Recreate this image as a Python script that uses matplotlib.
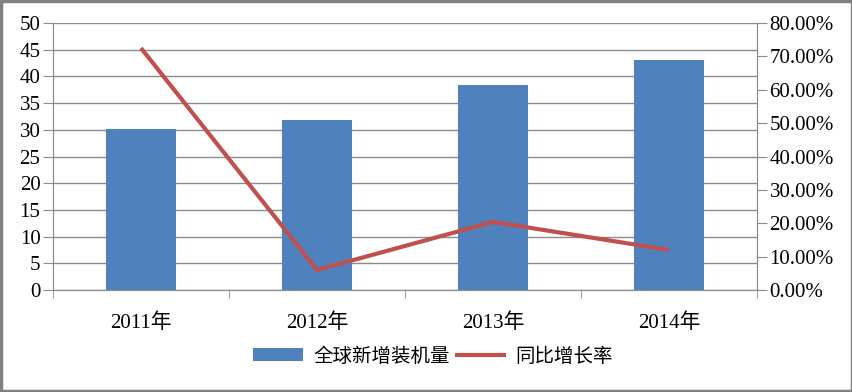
import numpy as np
import matplotlib.pyplot as plt
from matplotlib.patches import Rectangle

years = ["2011年", "2012年", "2013年", "2014年"]
capacity = [30.2, 31.9, 38.3, 43.0]
growth = [72.5, 6.0, 20.4, 12.0]

bar_color = "#4F81BD"
line_color = "#C0504D"
grid_color = "#8C8C8C"
tick_font = ["Liberation Serif", "Noto Sans CJK SC"]

fig = plt.figure(figsize=(8.53, 3.92), dpi=100)
ax1 = fig.add_axes([53/853, 1 - 290/392, (757-53)/853, (290-23)/392])
ax2 = ax1.twinx()

x = np.arange(len(years))
ax1.bar(x, capacity, width=0.4, color=bar_color, zorder=2, label="全球新增装机量")
ax2.plot(x, growth, color=line_color, lw=3, solid_capstyle="butt", label="同比增长率")

ax1.set_xlim(-0.5, len(years) - 0.5)
ax1.set_ylim(0, 50)
ax1.set_yticks(np.arange(0, 51, 5))
ax2.set_ylim(0, 80)
ax2.set_yticks(np.arange(0, 81, 10))
ax2.set_yticklabels(["%.2f%%" % v for v in np.arange(0, 81, 10)])

ax1.yaxis.grid(True, color=grid_color, lw=1, zorder=0)
ax1.set_axisbelow(True)

ax1.set_xticks(x)
ax1.set_xticklabels(years)
ax1.set_xticks(np.arange(-0.5, len(years), 1), minor=True)
ax1.tick_params(axis="x", which="major", length=0, pad=17)
ax1.tick_params(axis="x", which="minor", length=6, color=grid_color)
ax1.tick_params(axis="y", length=7, color=grid_color, pad=2)
ax2.tick_params(axis="y", length=7, color=grid_color, pad=2)

for lab in ax1.get_xticklabels() + ax1.get_yticklabels() + ax2.get_yticklabels():
    lab.set_family(tick_font)
    lab.set_fontsize(15)

for ax in (ax1, ax2):
    ax.spines["top"].set_visible(False)
    for side in ("left", "right", "bottom"):
        ax.spines[side].set_color(grid_color)

h1, l1 = ax1.get_legend_handles_labels()
h2, l2 = ax2.get_legend_handles_labels()
fig.legend(h1 + h2, l1 + l2, loc="center", bbox_to_anchor=(433/853, 1 - 356/392),
           ncol=2, frameon=False, prop={"family": "Noto Sans CJK SC", "size": 14},
           handlelength=2.6, handleheight=0.6, columnspacing=0.3, handletextpad=0.5)

fig.patches.append(Rectangle((0.0015, 0.003), 0.997, 0.994, transform=fig.transFigure,
                             fill=False, edgecolor="#808080", lw=2.5))

fig.savefig("out.png", dpi=100)
